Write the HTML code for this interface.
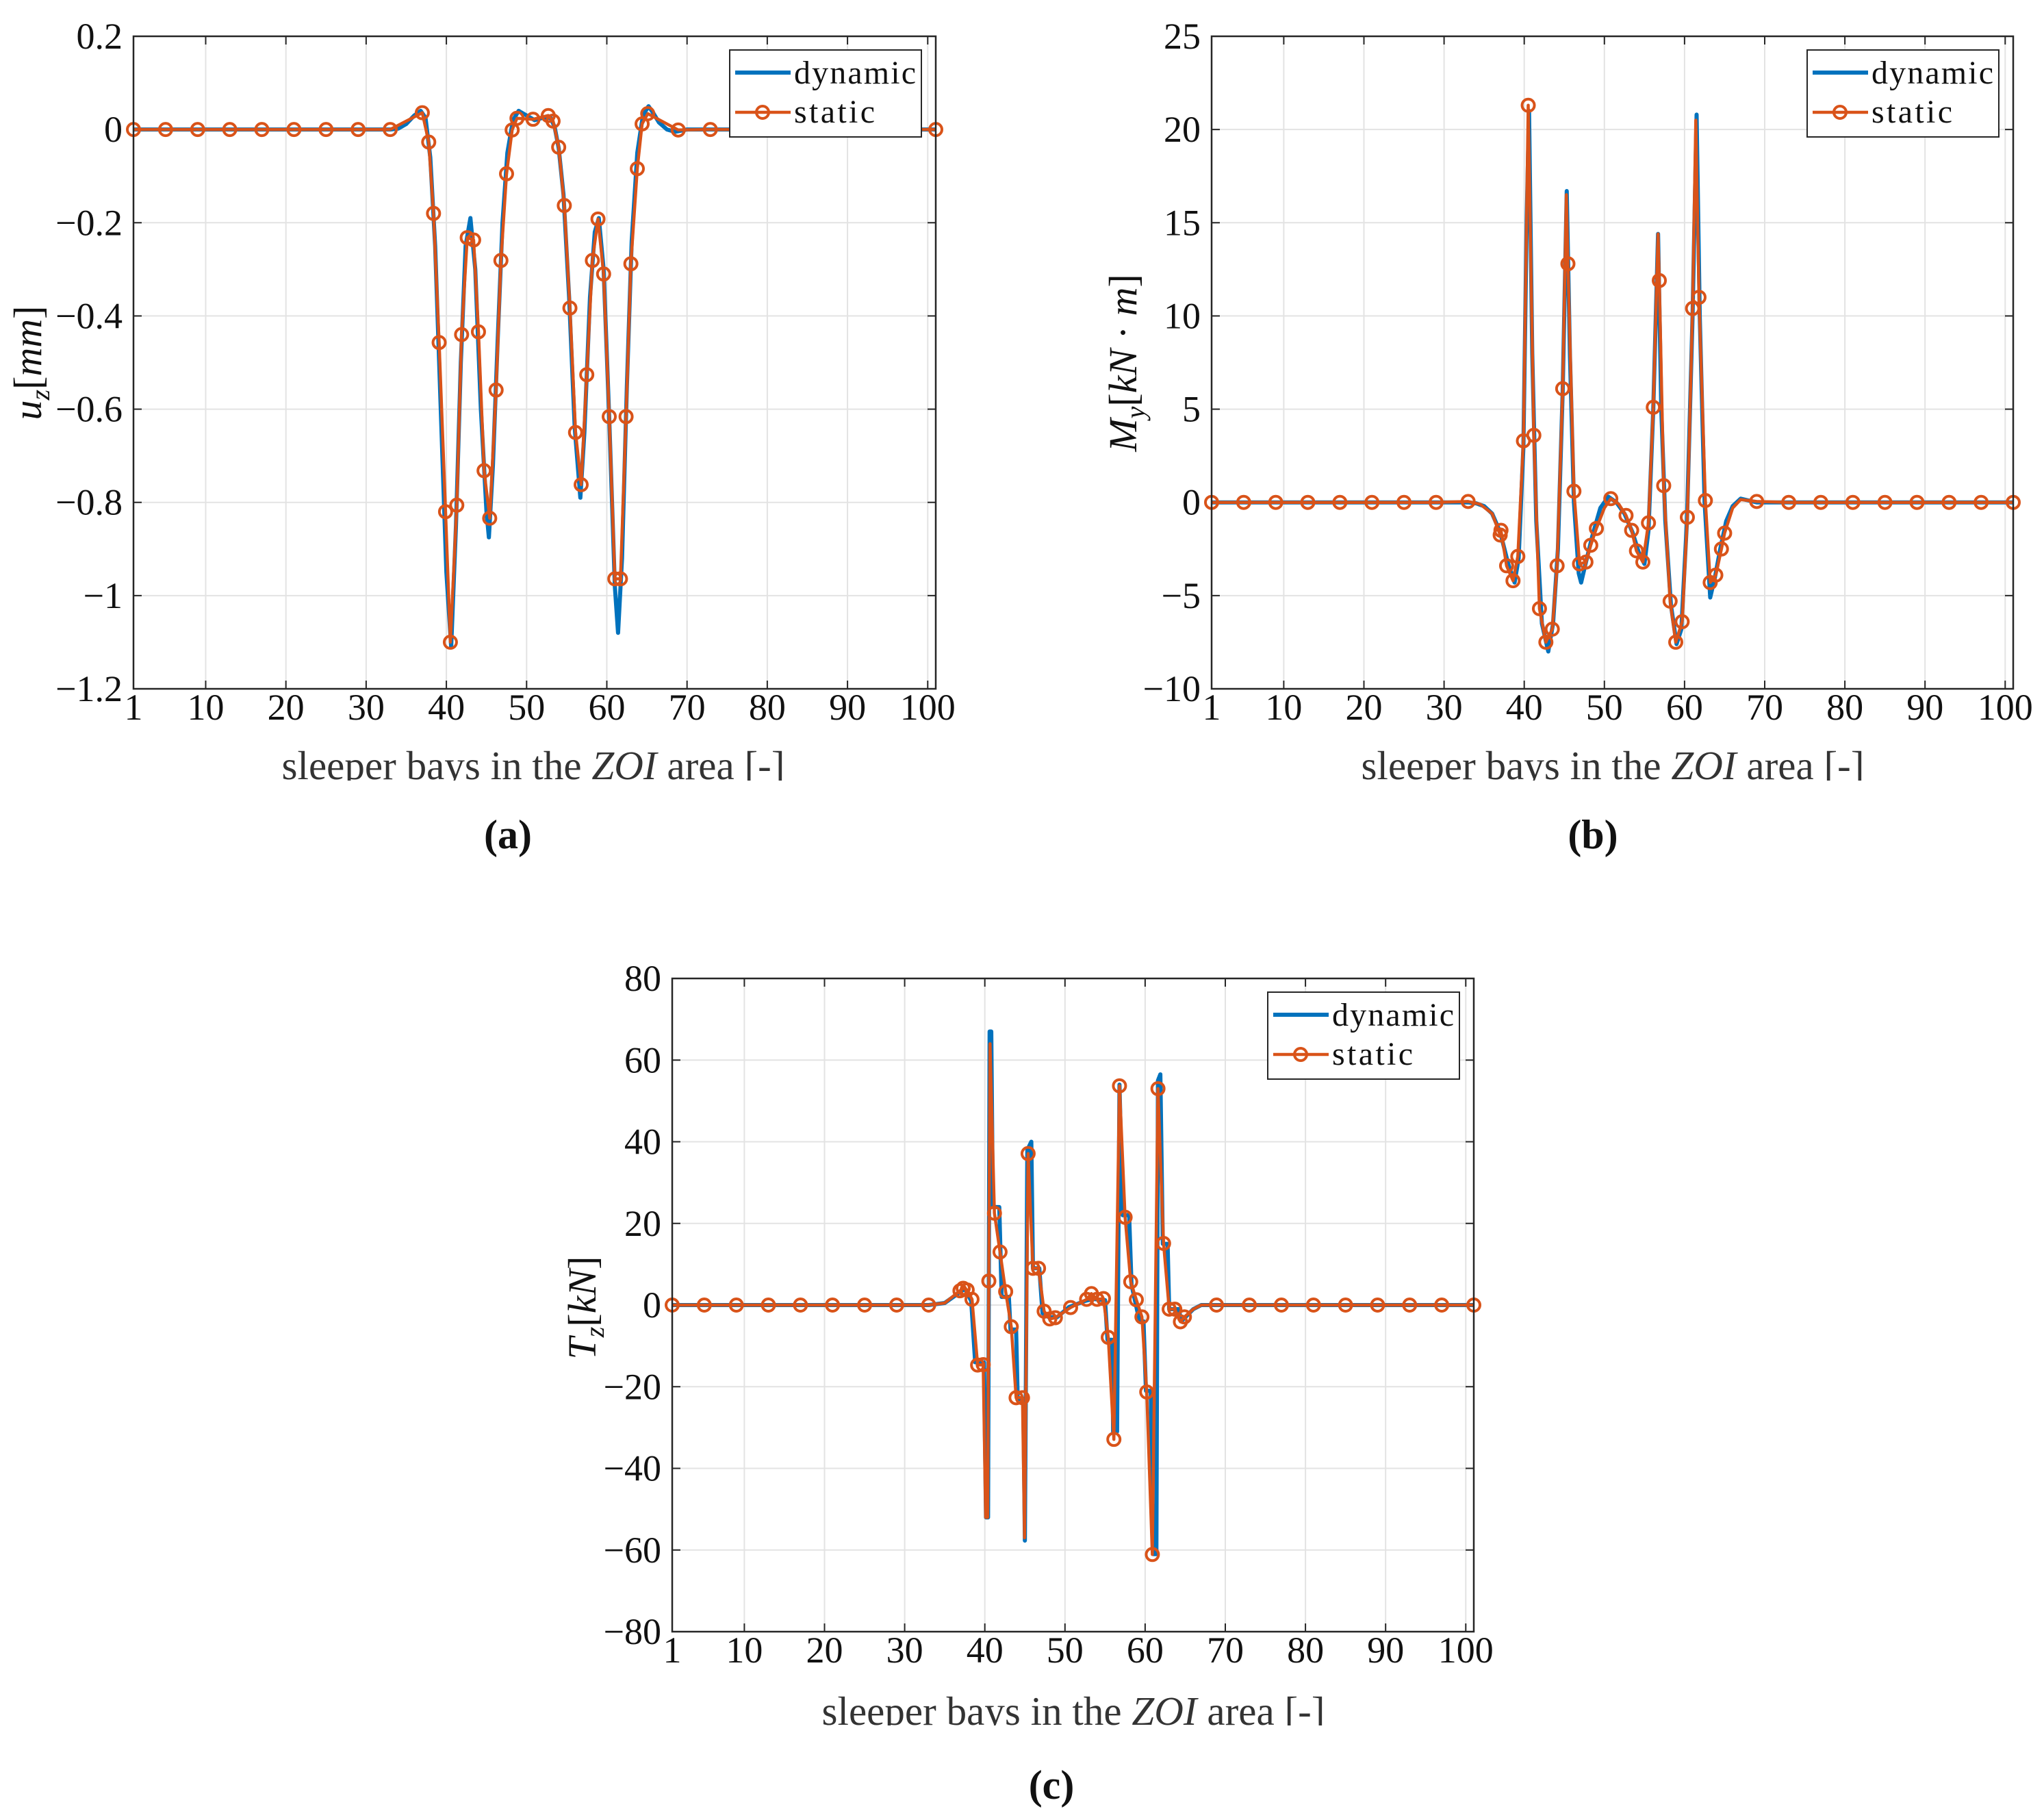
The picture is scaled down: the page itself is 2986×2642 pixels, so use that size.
<!DOCTYPE html>
<html><head><meta charset="utf-8">
<style>
html,body{margin:0;padding:0;background:#fff;}
svg{display:block;font-family:"Liberation Serif",serif;}
</style></head>
<body>
<svg id="fig" xmlns="http://www.w3.org/2000/svg" width="2986" height="2642" viewBox="0 0 2986 2642">
<rect x="0" y="0" width="2986" height="2642" fill="#fff"/>
<g id="chart-a"></g>
<g id="chart-b"></g>
<g id="chart-c"></g>

<text transform="translate(60,530) rotate(-90)" text-anchor="middle" font-size="58" fill="#111"><tspan font-style="italic">u</tspan><tspan font-style="italic" font-size="40" dy="12">z</tspan><tspan dy="-12">[</tspan><tspan font-style="italic">mm</tspan><tspan>]</tspan></text>
<text transform="translate(1660,530) rotate(-90)" text-anchor="middle" font-size="58" fill="#111"><tspan font-style="italic">M</tspan><tspan font-style="italic" font-size="40" dy="12">y</tspan><tspan dy="-12">[</tspan><tspan font-style="italic">kN</tspan><tspan> · </tspan><tspan font-style="italic">m</tspan><tspan>]</tspan></text>
<text transform="translate(870,1910) rotate(-90)" text-anchor="middle" font-size="58" fill="#111"><tspan font-style="italic">T</tspan><tspan font-style="italic" font-size="40" dy="12">z</tspan><tspan dy="-12">[</tspan><tspan font-style="italic">kN</tspan><tspan>]</tspan></text>

<defs>
<clipPath id="xlclipA"><rect x="0" y="1080" width="2986" height="60"/></clipPath>
<clipPath id="xlclipC"><rect x="0" y="2460" width="2986" height="60"/></clipPath>
</defs>
<g clip-path="url(#xlclipA)">
<text x="779" y="1138" text-anchor="middle" font-size="59" fill="#333" textLength="735">sleeper bays in the <tspan font-style="italic">ZOI</tspan> area [-]</text>
<text x="2356" y="1138" text-anchor="middle" font-size="59" fill="#333" textLength="735">sleeper bays in the <tspan font-style="italic">ZOI</tspan> area [-]</text>
</g>
<g clip-path="url(#xlclipC)">
<text x="1568" y="2519" text-anchor="middle" font-size="59" fill="#333" textLength="735">sleeper bays in the <tspan font-style="italic">ZOI</tspan> area [-]</text>
</g>
<text x="742" y="1239" text-anchor="middle" font-size="60" font-weight="bold" fill="#111">(a)</text>
<text x="2327" y="1239" text-anchor="middle" font-size="60" font-weight="bold" fill="#111">(b)</text>
<text x="1536" y="2627" text-anchor="middle" font-size="60" font-weight="bold" fill="#111">(c)</text>
</svg>

<script>
// ---------- Chart (a): u_z [mm] ----------
const aStaticX = [1,5,9,13,17,21,25,29,33,37.0,37.8,38.4,39.1,39.9,40.5,41.3,41.9,42.6,43.4,44.0,44.7,45.4,46.2,46.8,47.5,48.2,48.8,50.8,52.7,53.3,54.0,54.7,55.4,56.1,56.8,57.5,58.2,58.9,59.6,60.3,61.0,61.7,62.4,63.0,63.8,64.4,65.1,68.9,72.9,77,81,85,89,93,97,101];
const aStaticY = [0,0,0,0,0,0,0,0,0,0.036,-0.027,-0.18,-0.457,-0.82,-1.10,-0.806,-0.44,-0.232,-0.237,-0.434,-0.732,-0.834,-0.559,-0.281,-0.095,-0.001,0.024,0.022,0.030,0.018,-0.038,-0.163,-0.383,-0.65,-0.762,-0.526,-0.281,-0.192,-0.31,-0.616,-0.964,-0.964,-0.616,-0.288,-0.084,0.012,0.034,-0.001,0,0,0,0,0,0,0,0];
const aStaticMark = aStaticX.map(function(){return 1;});
const aDynX = [1,33,34,35,36,36.8,37.4,38,38.6,39.3,40,40.6,41.2,41.8,42.4,43.0,43.6,44.3,45.0,45.3,45.8,46.4,47.0,47.6,48.3,49.0,50,51,52,53,53.5,54,54.6,55.3,56.0,56.7,57.2,57.9,58.5,59.0,59.6,60.3,61.0,61.4,61.9,62.5,63.1,63.8,64.5,65.2,65.8,66.5,67.5,68.5,70,101];
const aDynY = [0,0,0.002,0.012,0.03,0.04,0.025,-0.06,-0.25,-0.6,-0.95,-1.11,-0.85,-0.5,-0.25,-0.19,-0.3,-0.6,-0.82,-0.875,-0.72,-0.45,-0.2,-0.05,0.02,0.04,0.03,0.02,0.025,0.025,0.005,-0.04,-0.14,-0.36,-0.64,-0.79,-0.65,-0.36,-0.22,-0.19,-0.3,-0.62,-0.98,-1.08,-0.92,-0.55,-0.24,-0.05,0.03,0.05,0.035,0.015,0,-0.005,0,0];
const aYTicks = [0.2,0,-0.2,-0.4,-0.6,-0.8,-1,-1.2];
const aYTickLabels = ["0.2","0","\u22120.2","\u22120.4","\u22120.6","\u22120.8","\u22121","\u22121.2"];

// ---------- Chart (b): M_y [kN m] ----------
const bStaticX = [1,5,9,13,17,21,25,29,33,34.5,36,37.0,37.1,37.8,38.6,39.2,39.9,40.5,41.2,41.9,42.7,43.5,44.1,44.8,45.25,45.45,46.2,46.9,47.7,48.3,49.0,50.0,50.8,51.8,52.7,53.4,54.0,54.8,55.5,56.1,56.7,56.85,57.4,58.2,58.9,59.7,60.35,61.0,61.4,61.8,62.6,63.2,63.9,64.6,65.0,66,67,68,69,73,77,81,85,89,93,97,101];
const bStaticY = [0,0,0,0,0,0,0,0,0.05,-0.1,-0.6,-1.75,-1.5,-3.4,-4.2,-2.9,3.3,21.3,3.6,-5.7,-7.5,-6.8,-3.4,6.1,16.5,12.8,0.6,-3.3,-3.2,-2.3,-1.4,-0.3,0.2,-0.1,-0.7,-1.5,-2.6,-3.2,-1.1,5.1,14.4,11.9,0.9,-5.3,-7.5,-6.4,-0.8,10.4,20.5,11.0,0.1,-4.3,-3.9,-2.5,-1.65,-0.3,0.15,0.1,0.05,0,0,0,0,0,0,0,0];
const bStaticMark = [1,1,1,1,1,1,1,1,1,0,0,1,1,1,1,1,1,1,1,1,1,1,1,1,0,1,1,1,1,1,1,0,1,0,1,1,1,1,1,1,0,1,1,1,1,1,1,1,0,1,1,1,1,1,1,0,0,0,1,1,1,1,1,1,1,1,1];
const bDynX = [1,33,34,35,36,37,38,38.8,39.3,39.9,40.3,40.6,41.0,41.5,42.2,43.0,43.6,44.2,44.8,45.3,45.7,46.2,46.8,47.1,47.7,48.5,49.5,50.5,51.5,52.5,53.5,54.3,55,55.5,56.1,56.7,57.1,57.6,58.3,59.0,59.6,60.3,61.0,61.5,61.9,62.5,63.2,63.8,64.5,65.2,66,67,68,69,101];
const bDynY = [0,0,-0.05,-0.2,-0.6,-1.6,-3.3,-4.3,-3.0,3,15,21.0,8,-1,-6.5,-8.0,-6.5,-2.5,6,16.7,8,0,-3.8,-4.3,-3.2,-1.8,-0.3,0.3,0,-0.6,-1.6,-2.7,-3.3,-1.5,5,14.4,5,-1,-5.5,-7.6,-6.8,-1,10,20.8,10,0,-5.1,-4.0,-2.4,-1,-0.2,0.2,0.1,0,0];
const bYTicks = [25,20,15,10,5,0,-5,-10];
const bYTickLabels = ["25","20","15","10","5","0","\u22125","\u221210"];

// ---------- Chart (c): T_z [kN] ----------
const cStaticX = [1,5,9,13,17,21,25,29,33,35,36.9,37.3,37.8,38.4,39.1,39.8,40.1,40.35,40.5,40.65,41.2,41.9,42.6,43.3,43.9,44.7,44.95,45.4,46.0,46.7,47.4,48.1,48.8,50.7,52.7,53.3,54.0,54.8,55.4,56.1,56.8,57.5,58.2,58.9,59.6,60.2,60.9,61.6,62.3,63.0,63.7,64.4,64.9,66,67,68.9,73,77,81,85,89,93,97,101];
const cStaticY = [0,0,0,0,0,0,0,0,0,0.5,3.5,4.1,3.7,1.4,-14.7,-14.6,-52,-52,5.9,64,22.5,13.0,3.3,-5.3,-22.7,-22.7,-57,37.1,9.0,9.0,-1.5,-3.4,-3.1,-0.6,1.4,2.8,1.4,1.6,-7.9,-32.9,53.7,21.5,5.7,1.3,-2.9,-21.3,-61.1,53.0,15.1,-1.0,-1.0,-4.1,-2.9,-1,0,0,0,0,0,0,0,0,0,0];
const cStaticMark = [1,1,1,1,1,1,1,1,1,0,1,1,1,1,1,1,0,0,1,0,1,1,1,1,1,1,0,1,1,1,1,1,1,1,1,1,1,1,1,1,1,1,1,1,1,1,1,1,1,1,1,1,1,0,0,1,1,1,1,1,1,1,1,1];
const cDynX = [1,33,35,36.8,37.5,38.3,38.8,39.9,40.15,40.4,40.6,40.8,41.0,41.8,42.1,43.0,43.2,43.9,44.1,44.8,45.0,45.3,45.8,46.0,46.8,47.2,48,49,50.5,52.5,53.5,55,55.3,55.9,56.0,56.5,56.8,57.2,58.0,58.3,59.3,59.8,60.1,60.7,61.0,61.4,61.6,61.9,62.2,62.8,63.0,64.2,64.5,65,66,67,101];
const cDynY = [0,0,0.5,3,4,1,-14,-14,-52,-52,67,67,24,24,2,2,-6,-6,-23,-23,-57.7,38,40,9,9,-2,-3,-3,-0.5,1,1.5,1.2,-8.5,-8.5,-31,-31,54,22,22,5,-4,-4,-21,-21,-61,-61,55,56.5,15,15,-1,-1,-4,-3,-1,0,0];
const cYTicks = [80,60,40,20,0,-20,-40,-60,-80];
const cYTickLabels = ["80","60","40","20","0","\u221220","\u221240","\u221260","\u221280"];

const xTicks = [1,10,20,30,40,50,60,70,80,90,100];
const xTickLabels = ["1","10","20","30","40","50","60","70","80","90","100"];
const legendLabels = ["dynamic","static"];

const NS = "http://www.w3.org/2000/svg";
function mk(tag, attrs, parent){
  const e = document.createElementNS(NS, tag);
  for (const k in attrs) e.setAttribute(k, attrs[k]);
  parent.appendChild(e);
  return e;
}

function drawChart(g, L, T, W, H, yMin, yMax, yTicks, yLabels, sX, sY, sM, dX, dY){
  const sx = v => L + (v - 1) / 100 * W;
  const sy = v => T + (yMax - v) / (yMax - yMin) * H;
  xTicks.forEach(function(t){
    const ln = mk("line",{x1:sx(t),x2:sx(t),y1:T,y2:T+H,stroke:"#e3e3e3","stroke-width":2},g);
    
    
  });
  yTicks.forEach(function(t){
    const ln = mk("line",{x1:L,x2:L+W,y1:sy(t),y2:sy(t),stroke:"#e3e3e3","stroke-width":2},g);
    
    
  });
  xTicks.forEach(function(t,i){
    mk("line",{x1:sx(t),x2:sx(t),y1:T+H,y2:T+H-12,stroke:"#262626","stroke-width":2},g);
    mk("line",{x1:sx(t),x2:sx(t),y1:T,y2:T+12,stroke:"#262626","stroke-width":2},g);
    const tx = mk("text",{x:sx(t),y:T+H+45,"text-anchor":"middle","font-size":54,fill:"#111"},g);
    tx.textContent = xTickLabels[i];
    
    
  });
  yTicks.forEach(function(t,i){
    mk("line",{x1:L,x2:L+12,y1:sy(t),y2:sy(t),stroke:"#262626","stroke-width":2},g);
    mk("line",{x1:L+W,x2:L+W-12,y1:sy(t),y2:sy(t),stroke:"#262626","stroke-width":2},g);
    const tx = mk("text",{x:L-16,y:sy(t)+18,"text-anchor":"end","font-size":54,fill:"#111"},g);
    tx.textContent = yLabels[i];
    
    
  });
  let d = "";
  dX.forEach(function(x,i){ d += (i?"L":"M") + sx(x).toFixed(1) + " " + sy(dY[i]).toFixed(1); });
  const pd = mk("path",{d:d,fill:"none",stroke:"#0072BD","stroke-width":6,"stroke-linejoin":"round"},g);
  
  
  let s = "";
  sX.forEach(function(x,i){ s += (i?"L":"M") + sx(x).toFixed(1) + " " + sy(sY[i]).toFixed(1); });
  const ps = mk("path",{d:s,fill:"none",stroke:"#D95319","stroke-width":4.5,"stroke-linejoin":"round"},g);
  
  
  sX.forEach(function(x,i){
    if (!sM[i]) return;
    const c = mk("circle",{cx:sx(x),cy:sy(sY[i]),r:9,fill:"none",stroke:"#D95319","stroke-width":4},g);
    
    
  });
  const box = mk("rect",{x:L,y:T,width:W,height:H,fill:"none",stroke:"#262626","stroke-width":2.5},g);
  
  
  const lx = L + W - 21 - 280, ly = T + 20;
  const lg = mk("g",{},g);
  
  
  mk("rect",{x:lx,y:ly,width:280,height:127,fill:"#fff",stroke:"#262626","stroke-width":2},lg);
  mk("line",{x1:lx+8,x2:lx+89,y1:ly+33,y2:ly+33,stroke:"#0072BD","stroke-width":6},lg);
  const t1 = mk("text",{x:lx+94,y:ly+49,"font-size":48,fill:"#111",textLength:178},lg);
  t1.textContent = legendLabels[0];
  
  
  mk("line",{x1:lx+8,x2:lx+89,y1:ly+91,y2:ly+91,stroke:"#D95319","stroke-width":4.5},lg);
  mk("circle",{cx:lx+48,cy:ly+91,r:9,fill:"none",stroke:"#D95319","stroke-width":4},lg);
  const t2 = mk("text",{x:lx+94,y:ly+106,"font-size":48,fill:"#111",textLength:118},lg);
  t2.textContent = legendLabels[1];
  
  
}

drawChart(document.getElementById("chart-a"),195,53,1172,953,-1.2,0.2,aYTicks,aYTickLabels,aStaticX,aStaticY,aStaticMark,aDynX,aDynY);
drawChart(document.getElementById("chart-b"),1770,53,1171,953,-10,25,bYTicks,bYTickLabels,bStaticX,bStaticY,bStaticMark,bDynX,bDynY);
drawChart(document.getElementById("chart-c"),982,1429,1171,954,-80,80,cYTicks,cYTickLabels,cStaticX,cStaticY,cStaticMark,cDynX,cDynY);
</script>
</body></html>
